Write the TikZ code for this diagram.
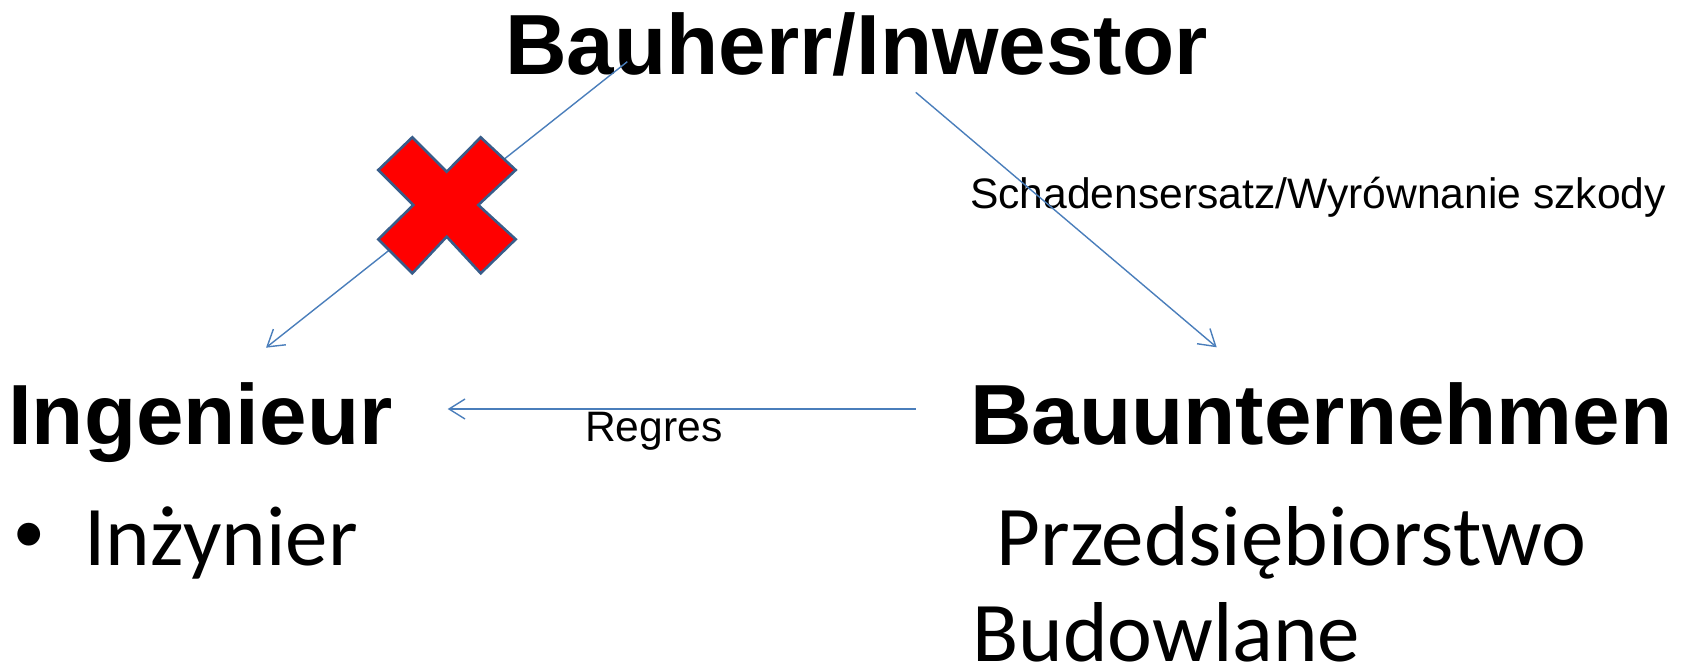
\documentclass[tikz,border=0pt]{standalone}
\usepackage{fontspec}
\setmainfont{Liberation Sans}
\newfontfamily\calibri{Carlito}
\usetikzlibrary{arrows.meta}
\definecolor{linkblue}{HTML}{4A7EBB}
\definecolor{crossedge}{HTML}{385D8A}
\tikzset{
  heading/.style={inner sep=0pt, anchor=base west, font=\fontsize{85.4}{85.4}\selectfont\bfseries},
  subtext/.style={inner sep=0pt, anchor=base west, font=\calibri\fontsize{85}{96}\selectfont},
  label/.style={inner sep=0pt, anchor=base west, font=\fontsize{42.6}{42.6}\selectfont},
  link/.style={draw=linkblue, line width=1.4pt, -{Straight Barb[length=16pt,width=20pt,line width=1.4pt]}},
  crossmark/.style={fill=red, draw=crossedge, line width=2.6pt, line join=miter}
}
\begin{document}
\begin{tikzpicture}[x=1pt,y=-1pt]
\useasboundingbox (0,0) rectangle (1686,666);
% headings
\node[heading] (bauherr) at (505,75) {Bauherr/Inwestor};
\node[heading] (ingenieur) at (8,444) {Ingenieur};
\node[heading] (bauunt) at (970,444) {Bauunternehmen};
% sub texts
\node[inner sep=0pt, anchor=center, font=\fontsize{84}{84}\selectfont] (bullet) at (29,543) {•};
\node[subtext] (inz) at (84,565) {Inżynier};
\node[subtext] (przed) at (977,565) {\ Przedsiębiorstwo};
\node[subtext] (budow) at (972,661) {Budowlane};
% labels
\node[label] (schaden) at (970,208) {Schadensersatz/Wyrównanie szkody};
\node[label] (regres) at (585,441) {Regres};
% connector end points
\coordinate (bhL) at (627.3,61.7);
\coordinate (ingT) at (266,347.7);
\coordinate (bhR) at (915.7,92.3);
\coordinate (buT) at (1216.7,347.3);
\coordinate (buL) at (915.7,409);
\coordinate (ingR) at (447.7,409);
% connectors
\draw[link] (bhL) -- (ingT);
\draw[link] (bhR) -- (buT);
\draw[link] (buL) -- (ingR);
% cross
\filldraw[crossmark] (412.3,137.3) -- (446.7,171.7) -- (480.7,137.3) -- (515.7,170) -- (478.3,205) -- (515.7,239.3) -- (480.7,273.3) -- (446.7,236.7) -- (412.3,273.3) -- (378.3,239.3) -- (413.3,205) -- (378.3,170) -- cycle;
\end{tikzpicture}
\end{document}
